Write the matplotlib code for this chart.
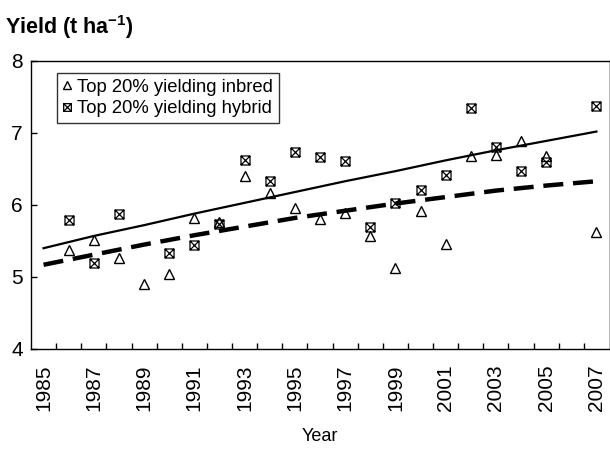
import numpy as np
import matplotlib
matplotlib.use("Agg")
import matplotlib.pyplot as plt
from matplotlib.path import Path
from matplotlib.ticker import FixedLocator, NullFormatter

plt.rcParams['font.family'] = ['Liberation Sans', 'DejaVu Sans']
plt.rcParams['mathtext.fontset'] = 'custom'
plt.rcParams['mathtext.rm'] = 'Liberation Sans'
plt.rcParams['mathtext.bf'] = 'Liberation Sans:bold'

# Observed yields of the top 20% of farms (t/ha)
inbred_years = [1986, 1987, 1988, 1989, 1990, 1991, 1992, 1993, 1994, 1995, 1996,
                1997, 1998, 1999, 2000, 2001, 2002, 2003, 2004, 2005, 2007]
inbred_yield = [5.38, 5.51, 5.26, 4.90, 5.04, 5.82, 5.77, 6.40, 6.16, 5.96, 5.81,
                5.89, 5.57, 5.13, 5.91, 5.46, 6.68, 6.70, 6.89, 6.68, 5.62]

hybrid_years = [1986, 1987, 1988, 1990, 1991, 1992, 1993, 1994, 1995, 1996, 1997,
                1998, 1999, 2000, 2001, 2002, 2003, 2004, 2005, 2007]
hybrid_yield = [5.79, 5.20, 5.88, 5.34, 5.45, 5.74, 6.63, 6.33, 6.74, 6.67, 6.61,
                5.69, 6.03, 6.21, 6.42, 7.35, 6.81, 6.47, 6.60, 7.37]

# Trend lines
trend_years = [1985, 1987, 1989, 1991, 1993, 1995, 1997, 1999, 2001, 2003, 2005, 2007]
trend_solid = [5.40, 5.57, 5.72, 5.88, 6.03, 6.18, 6.33, 6.47, 6.62, 6.76, 6.89, 7.02]
trend_dashed = [5.17, 5.31, 5.45, 5.58, 5.70, 5.82, 5.92, 6.02, 6.11, 6.20, 6.27, 6.33]

year_labels = [str(y) for y in range(1985, 2008, 2)]

# boxed-cross marker: square outline with both diagonals
box_x = Path([(-1, -1), (1, -1), (1, 1), (-1, 1), (-1, -1),
              (-1, -1), (1, 1), (-1, 1), (1, -1)],
             [Path.MOVETO, Path.LINETO, Path.LINETO, Path.LINETO, Path.CLOSEPOLY,
              Path.MOVETO, Path.LINETO, Path.MOVETO, Path.LINETO])

fig = plt.figure(figsize=(6.1, 4.5), dpi=100)
ax = fig.add_axes([31 / 610, 1 - 349 / 450, 578 / 610, 288 / 450])

ax.plot(trend_years, trend_solid, color='black', lw=1.6, zorder=2)
ax.plot(trend_years, trend_dashed, color='black', lw=3.2,
        linestyle=(0, (4.5, 2.2)), dash_capstyle='butt', zorder=2)

ax.plot(inbred_years, inbred_yield, linestyle='none', marker='^', ms=6.5,
        mfc='none', mec='black', mew=1.0, label='Top 20% yielding inbred', zorder=3)
ax.plot(hybrid_years, hybrid_yield, linestyle='none', marker=box_x, ms=6.5,
        mfc='none', mec='black', mew=0.9, label='Top 20% yielding hybrid', zorder=3)

ax.set_xlim(1984.5, 2007.5)
ax.set_ylim(4, 8)
ax.set_yticks([4, 5, 6, 7, 8])
ax.set_xticks(range(1985, 2008, 2))
ax.set_xticklabels(year_labels, rotation=90)
ax.xaxis.set_minor_locator(FixedLocator(np.arange(1985.5, 2007, 1.0)))
ax.xaxis.set_minor_formatter(NullFormatter())
ax.tick_params(axis='x', which='major', length=0, pad=11, labelsize=15)
ax.tick_params(axis='x', which='minor', direction='in', length=4, width=1.0)
ax.tick_params(axis='y', which='major', direction='in', length=4, width=1.0,
               pad=6, labelsize=15)

for side in ['left', 'bottom', 'top']:
    ax.spines[side].set_linewidth(1.0)
ax.spines['right'].set_color('#bbbbbb')

ax.set_xlabel('Year', fontsize=13, labelpad=12)

leg = ax.legend(loc='upper left', bbox_to_anchor=(0.045, 0.958), borderaxespad=0,
                fontsize=13.3, frameon=True, fancybox=False, edgecolor='black',
                handlelength=0.5, handletextpad=0.3, labelspacing=0.25,
                borderpad=0.3, markerscale=0.85)
leg.get_frame().set_linewidth(1.0)

fig.text(5 / 610, 1 - 27 / 450, r'Yield (t ha$^{\mathbf{-1}}$)', fontsize=15.5,
         fontweight='bold', va='center', ha='left')

fig.savefig('out.png', dpi=100)
